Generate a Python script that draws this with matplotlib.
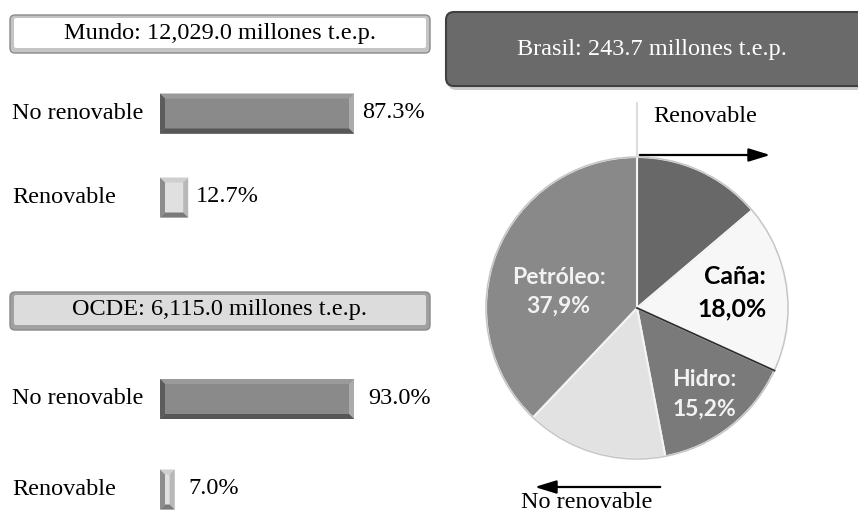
import matplotlib
matplotlib.use('Agg')
import matplotlib.pyplot as plt
from matplotlib.patches import Polygon, FancyBboxPatch, Circle
import numpy as np

W, H, DPI = 858, 514, 100

# ---------------- data ----------------
panel_titles = ["Mundo: 12,029.0 millones t.e.p.", "OCDE: 6,115.0 millones t.e.p."]
bar_categories = ["No renovable", "Renovable"]
mundo_values = [87.3, 12.7]
ocde_values = [93.0, 7.0]
brasil_title = "Brasil: 243.7 millones t.e.p."
pie_labels = ["", "Caña", "Hidro", "", "Petróleo"]
pie_values = [13.8, 18.0, 15.2, 15.1, 37.9]
arrow_labels = ["Renovable", "No renovable"]

SERIF = ['Liberation Serif', 'DejaVu Serif']
SANS = ['Lato', 'DejaVu Sans']
FS = 17.5

fig = plt.figure(figsize=(W / DPI, H / DPI), dpi=DPI)
fig.patch.set_facecolor('white')


def px_axes(x0, y0, x1, y1, **kw):
    return fig.add_axes([x0 / W, 1 - y1 / H, (x1 - x0) / W, (y1 - y0) / H], **kw)


ov = px_axes(0, 0, W, H, zorder=10)
ov.set_xlim(0, W)
ov.set_ylim(H, 0)
ov.axis('off')


def to_px(ax, x, y):
    dx, dy = ax.transData.transform((x, y))
    return dx, H - dy


def bevel(x0, y0, x1, y1, b, cols):
    top, right, bottom, left = cols
    polys = [
        ([(x0, y0), (x1, y0), (x1 - b, y0 + b), (x0 + b, y0 + b)], top),
        ([(x1, y0), (x1, y1), (x1 - b, y1 - b), (x1 - b, y0 + b)], right),
        ([(x0, y1), (x1, y1), (x1 - b, y1 - b), (x0 + b, y1 - b)], bottom),
        ([(x0, y0), (x0 + b, y0 + b), (x0 + b, y1 - b), (x0, y1)], left),
    ]
    for pts, c in polys:
        ov.add_patch(Polygon(pts, closed=True, facecolor=c, edgecolor='none'))


def title_box(x0, y0, x1, y1, outer, inner, text, tcolor='black'):
    ov.add_patch(FancyBboxPatch((x0, y0), x1 - x0, y1 - y0,
                                boxstyle="round,pad=0,rounding_size=5",
                                facecolor=outer, edgecolor='#8a8a8a', linewidth=1))
    ov.add_patch(FancyBboxPatch((x0 + 4, y0 + 3), x1 - x0 - 8, y1 - y0 - 8,
                                boxstyle="round,pad=0,rounding_size=2",
                                facecolor=inner, edgecolor='none'))
    ov.text((x0 + x1) / 2, (y0 + y1) / 2 - 1, text, ha='center', va='center',
            fontsize=FS, family=SERIF, color=tcolor)


fills = ['#8a8a8a', '#e0e0e0']
bevel_cols = [('#9a9a9a', '#ababab', '#575757', '#5c5c5c'),
              ('#cfcfcf', '#b8b8b8', '#7a7a7a', '#8c8c8c')]


def bar_panel(values, box_y, row_ys, inner_fill, outer_fill, title, val_off):
    title_box(10, box_y[0], 430, box_y[1], outer_fill, inner_fill, title)
    ax = px_axes(160, row_ys[0] - 30, 354, row_ys[1] + 30)
    ax.set_xlim(0, max(values))
    span = row_ys[1] - row_ys[0]
    ax.set_ylim(1 + 30 / span, -30 / span)
    ax.axis('off')
    bars = ax.barh([0, 1], values, height=40 / span, color=fills, edgecolor='none')
    for i, (bar, v) in enumerate(zip(bars, values)):
        bx0, by0 = to_px(ax, bar.get_x(), bar.get_y())
        bx1, by1 = to_px(ax, bar.get_x() + bar.get_width(), bar.get_y() + bar.get_height())
        bevel(bx0, min(by0, by1), bx1, max(by0, by1), 5, bevel_cols[i])
        ov.text(12, (by0 + by1) / 2, bar_categories[i], ha='left', va='center',
                fontsize=FS, family=SERIF)
        ov.text(bx1 + val_off, (by0 + by1) / 2 - 1, f"{v:.1f}%", ha='left', va='center',
                fontsize=FS, family=SERIF)


bar_panel(mundo_values, (15, 53), (113.5, 197.5), 'white', '#c4c4c4', panel_titles[0], 8)
bar_panel(ocde_values, (292, 330), (399, 489.5), '#dcdcdc', '#a0a0a0', panel_titles[1], 14)

# ---------------- Brasil ----------------
ov.add_patch(FancyBboxPatch((448, 15), 420, 75, boxstyle="round,pad=0,rounding_size=8",
                            facecolor='#9a9a9a', edgecolor='none', alpha=0.5))
ov.add_patch(FancyBboxPatch((446, 12), 420, 74, boxstyle="round,pad=0,rounding_size=8",
                            facecolor='#6a6a6a', edgecolor='#404040', linewidth=1.5))
ov.text(652, 50, brasil_title, ha='center', va='center', fontsize=FS,
        family=SERIF, color='white')

cx, cy, r = 637, 308, 151
pax = px_axes(cx - r, cy - r, cx + r, cy + r)
pie_colors = ['#686868', '#f7f7f7', '#7a7a7a', '#e2e2e2', '#898989']
wedges, _ = pax.pie(pie_values, startangle=90, counterclock=False, colors=pie_colors,
                    wedgeprops=dict(edgecolor='#f4f4f4', linewidth=1.5))
pax.set_xlim(-1, 1)
pax.set_ylim(-1, 1)
for w in wedges:
    w.set_clip_on(False)
pax.add_patch(Circle((0, 0), 1, facecolor='none', edgecolor='#c4c4c4', linewidth=1, clip_on=False))
total = sum(pie_values)
ang = np.deg2rad(90 - 360 * (pie_values[0] + pie_values[1]) / total)
pax.plot([0, np.cos(ang)], [0, np.sin(ang)], color='#2e2e2e', lw=1.3, clip_on=False)
pax.axis('off')


def pct(v):
    return f"{v:.1f}%".replace('.', ',')


ov.text(559, 277, f"{pie_labels[4]}:", ha='center', va='center', fontsize=16.5,
        family=SANS, weight='bold', color='#f2f2f2')
ov.text(558, 306, pct(pie_values[4]), ha='center', va='center',
        fontsize=16.5, family=SANS, weight='bold', color='#f2f2f2')
ov.text(735, 277, f"{pie_labels[1]}:", ha='center', va='center', fontsize=17.8,
        family=SANS, weight='bold', color='black')
ov.text(732, 309, pct(pie_values[1]), ha='center', va='center',
        fontsize=17.8, family=SANS, weight='bold', color='black')
ov.text(704, 380, f"{pie_labels[2]}:", ha='center', va='center', fontsize=16.5,
        family=SANS, weight='bold', color='#f2f2f2')
ov.text(704, 409, pct(pie_values[2]), ha='center', va='center',
        fontsize=16.5, family=SANS, weight='bold', color='#f2f2f2')

# arrows and guide line
ov.plot([cx, cx], [103, cy - r], color='#dcdcdc', lw=1.5)
ov.annotate('', xy=(773, 155), xytext=(cx, 155),
            arrowprops=dict(arrowstyle='-|>,head_length=1.3,head_width=0.4', color='black', lw=1.6))
ov.text(705, 117, arrow_labels[0], ha='center', va='center', fontsize=FS, family=SERIF)
ov.annotate('', xy=(532, 487), xytext=(663, 487),
            arrowprops=dict(arrowstyle='-|>,head_length=1.3,head_width=0.4', color='black', lw=1.6))
ov.text(587, 503, arrow_labels[1], ha='center', va='center', fontsize=FS, family=SERIF)

fig.savefig('out.png', dpi=DPI, facecolor='white')
